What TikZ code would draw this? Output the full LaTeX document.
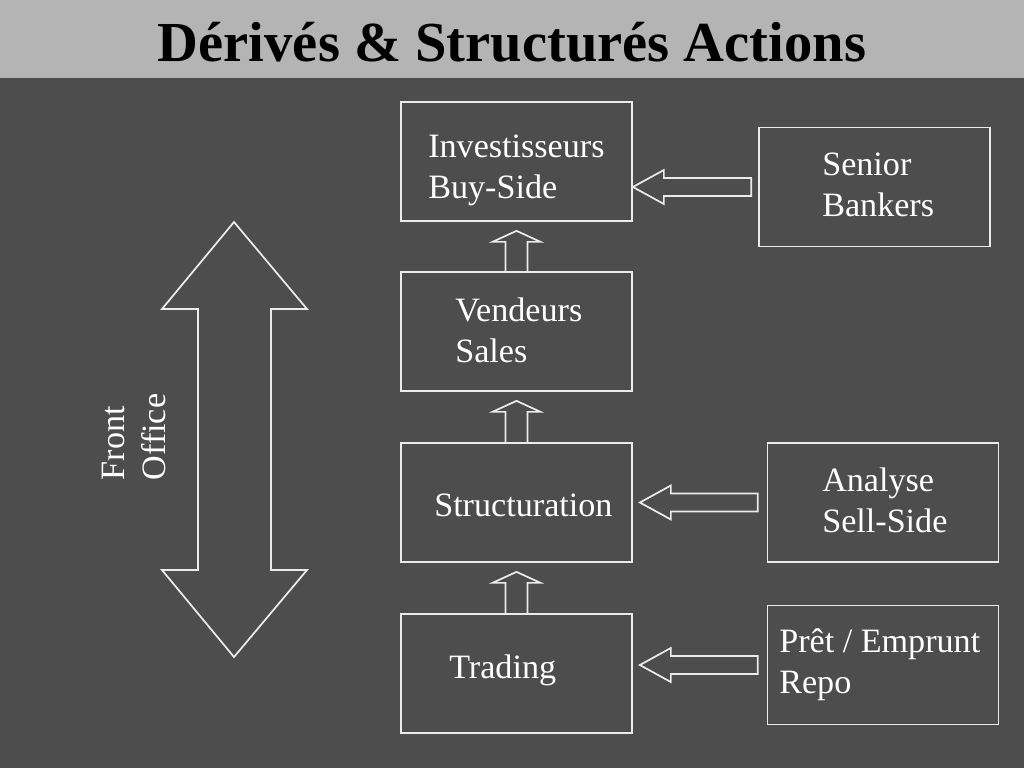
\documentclass[tikz,border=0pt]{standalone}
\usepackage{fontspec}
\setmainfont{Liberation Serif}
\usetikzlibrary{calc}
\definecolor{bgdark}{RGB}{77,77,77}
\definecolor{bartitle}{RGB}{180,180,180}
\definecolor{linewhite}{RGB}{235,235,235}
\tikzset{
  box/.style={draw=linewhite, line width=1.3pt, minimum width=173.25pt, minimum height=89.25pt, inner sep=0pt},
  boxtext/.style={text=white, font=\fontsize{25.6}{30.8}\selectfont, align=left, anchor=west, inner sep=0pt},
  blockarr/.style={draw=linewhite, line width=1.3pt, line join=miter},
}
\newcommand\blockup[2]{\draw[blockarr] ($(#1.north)+(-11,0)$) -- ($(#2.south)+(-11,20)$) -- ($(#2.south)+(-24,20)$) -- ($(#2.south)+(0,9)$) -- ($(#2.south)+(24,20)$) -- ($(#2.south)+(11,20)$) -- ($(#1.north)+(11,0)$);}
% #1 source (right box), #2 target (left box), #3 gap at tip, #4 gap at tail
\newcommand\blockleft[4]{\draw[blockarr] ($(#2.east |- #1.west)+(#3,0)$) -- ++(31,-17) -- ++(0,8) -- ($(#1.west)+(-#4,-9)$) -- ++(0,18) -- ($(#2.east |- #1.west)+(#3+31,9)$) -- ++(0,8) -- cycle;}
\begin{document}
\begin{tikzpicture}[x=0.75pt,y=-0.75pt]
\useasboundingbox (0,0) rectangle (1024,768);
\fill[bgdark] (0,0) rectangle (1024,768);
\fill[bartitle] (0,0) rectangle (1024,78);
\node[font=\fontsize{42.4}{50}\selectfont\bfseries, text=black, anchor=base] (title) at (512,61) {Dérivés \& Structurés Actions};

\node[box] (inv) at (516.5,161.5) {};
\node[box] (ven) at (516.5,331.5) {};
\node[box] (str) at (516.5,502.5) {};
\node[box] (tra) at (516.5,673.5) {};
\node[box] (sen) at (874.5,187) {};
\node[box] (ana) at (883,502.5) {};
\node[box] (pre) at (883,665) {};

\node[boxtext] (tinv) at (428,170) {Investisseurs\\Buy-Side};
\node[boxtext] (tven) at (455,330) {Vendeurs\\Sales};
\node[boxtext] (tstr) at (434,505) {Structuration};
\node[boxtext] (ttra) at (449,670) {Trading};
\node[boxtext] (tsen) at (822,185) {Senior\\Bankers};
\node[boxtext] (tana) at (822,500) {Analyse\\Sell-Side};
\node[boxtext] (tpre) at (779,665) {Prêt / Emprunt\\Repo};

\blockup{ven}{inv}
\blockup{str}{ven}
\blockup{tra}{str}

\blockleft{sen}{inv}{0}{7}
\blockleft{ana}{str}{7}{9}
\blockleft{pre}{tra}{7}{9}

% Front Office double arrow
\coordinate (ftop) at (234,222);
\coordinate (fbot) at (234,657);
\draw[blockarr] (ftop) -- (307,309) -- (271,309) -- (271,570) -- (307,570) -- (fbot) -- (162,570) -- (198,570) -- (198,309) -- (162,309) -- cycle;
\node[boxtext, rotate=90, anchor=center] (front) at (134,437) {Front\\Office};
\end{tikzpicture}
\end{document}
